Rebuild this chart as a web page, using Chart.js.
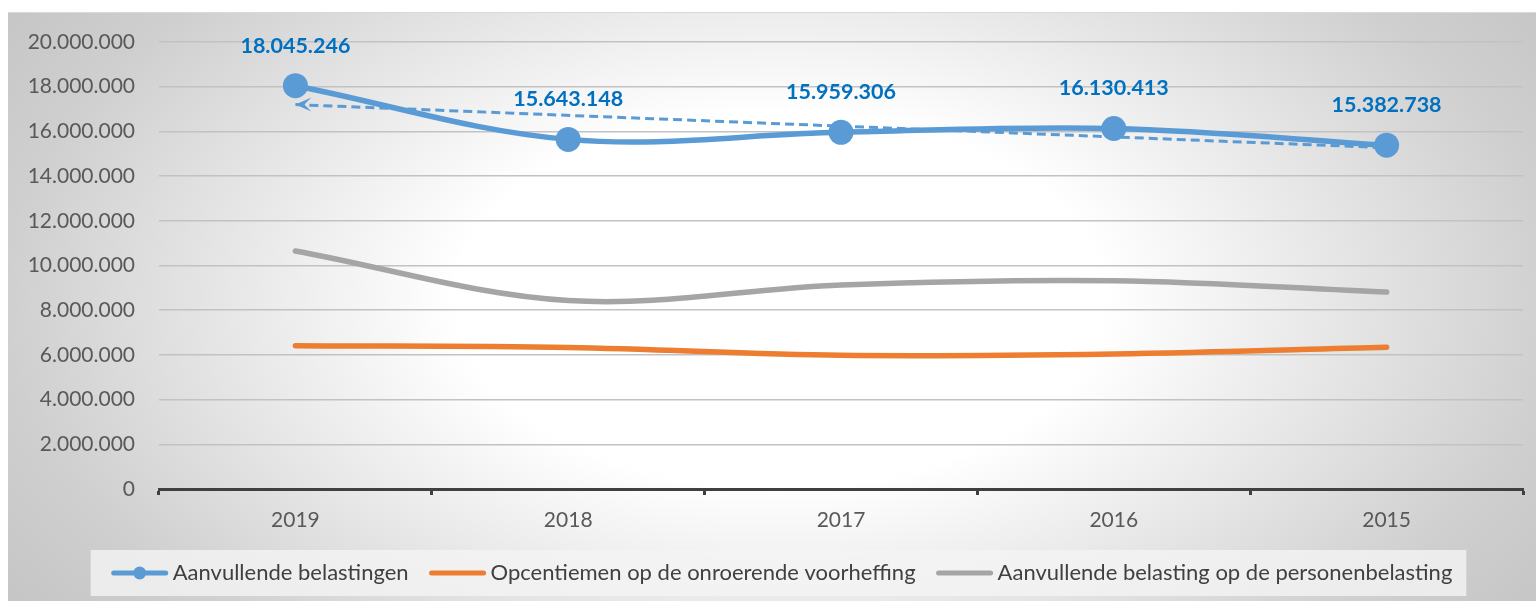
<!DOCTYPE html>
<html>
<head>
<meta charset="utf-8">
<script src="https://cdn.jsdelivr.net/npm/chart.js@4/dist/chart.umd.min.js"></script>
<style>
  html, body { margin: 0; padding: 0; background: #fff; }
  #wrap { width: 1536px; height: 601px; }
</style>
</head>
<body>
<div id="wrap"><canvas id="grafica" width="1536" height="601"></canvas></div>
<script>
// Gegevens
const jaren = ["2019", "2018", "2017", "2016", "2015"];
const aanvullendeBelastingen = [18045246, 15643148, 15959306, 16130413, 15382738];
const opcentiemen = [6410000, 6330000, 5980000, 6040000, 6340000];
const personenbelasting = [10650000, 8430000, 9130000, 9320000, 8810000];
// lineaire trendlijn: enkel begin- en eindpunt
const trendlijn = [17200000, null, null, null, 15270000];
const yMin = 0;
const yMax = 20000000;
const yStap = 2000000;

// getal met punten als duizendtal-scheiding
const puntNotatie = (waarde) =>
  String(Math.round(waarde)).replace(/\B(?=(\d{3})+(?!\d))/g, ".");

// Achtergrond met radiale kleurovergang
const achtergrond = {
  id: "achtergrond",
  beforeDraw(chart) {
    const ctx = chart.ctx;
    ctx.save();
    ctx.fillStyle = "#ffffff";
    ctx.fillRect(0, 0, chart.width, chart.height);
    const cx = 780, cy = 300, rx = 1080, ry = 620;
    ctx.translate(cx, cy);
    ctx.scale(1, ry / rx);
    const grad = ctx.createRadialGradient(0, 0, 0, 0, 0, rx);
    grad.addColorStop(0, "#ffffff");
    grad.addColorStop(0.3, "#ffffff");
    grad.addColorStop(0.72, "#cfcfcf");
    grad.addColorStop(1, "#bcbcbc");
    ctx.fillStyle = grad;
    ctx.fillRect(8 - cx, (12 - cy) * rx / ry, chart.width, chart.height * rx / ry);
    ctx.restore();
    ctx.save();
    ctx.strokeStyle = "#d9d9d9";
    ctx.lineWidth = 1;
    ctx.beginPath();
    ctx.moveTo(8, 12.5);
    ctx.lineTo(chart.width, 12.5);
    ctx.stroke();
    ctx.restore();
  },
};

// Waardelabels en pijlpunt van de trendlijn
const labelsEnPijl = {
  id: "labelsEnPijl",
  afterDatasetsDraw(chart) {
    const ctx = chart.ctx;
    ctx.save();
    const meta = chart.getDatasetMeta(0);
    ctx.font = "bold 21.5px Lato";
    ctx.fillStyle = "#0070C0";
    ctx.textAlign = "center";
    ctx.textBaseline = "middle";
    meta.data.forEach((punt, i) => {
      ctx.fillText(puntNotatie(aanvullendeBelastingen[i]), punt.x, punt.y - 40);
    });

    const trend = chart.getDatasetMeta(3).data[0];
    ctx.fillStyle = "#5B9BD5";
    ctx.beginPath();
    ctx.moveTo(trend.x, trend.y);
    ctx.lineTo(trend.x + 16, trend.y - 7);
    ctx.lineTo(trend.x + 9, trend.y);
    ctx.lineTo(trend.x + 16, trend.y + 7);
    ctx.closePath();
    ctx.fill();
    ctx.restore();
  },
};

// Legende onderaan
const legende = {
  id: "legende",
  afterDraw(chart) {
    const ctx = chart.ctx;
    const reeksen = chart.data.datasets.filter((d) => !d.geenLegende);
    ctx.save();
    ctx.font = "22px Lato";
    const stukBreedte = 56, tekstAfstand = 5, tussenAfstand = 21;
    const breedtes = reeksen.map((d) => ctx.measureText(d.label).width);
    let totaal = tussenAfstand * (reeksen.length - 1);
    breedtes.forEach((b) => (totaal += stukBreedte + tekstAfstand + b));
    const midden = 782;
    let x = midden - totaal / 2;
    const yMidden = 573;

    ctx.fillStyle = "rgba(244,244,244,0.8)";
    ctx.fillRect(x - 21, 550, totaal + 35, 46);

    reeksen.forEach((d, i) => {
      ctx.strokeStyle = d.borderColor;
      ctx.lineWidth = 5;
      ctx.lineCap = "round";
      ctx.beginPath();
      ctx.moveTo(x + 2, yMidden);
      ctx.lineTo(x + stukBreedte - 2, yMidden);
      ctx.stroke();
      if (d.pointRadius > 0) {
        ctx.fillStyle = d.borderColor;
        ctx.beginPath();
        ctx.arc(x + stukBreedte / 2, yMidden, 6.5, 0, Math.PI * 2);
        ctx.fill();
      }
      ctx.fillStyle = "#404040";
      ctx.textAlign = "left";
      ctx.textBaseline = "middle";
      ctx.fillText(d.label, x + stukBreedte + tekstAfstand, yMidden);
      x += stukBreedte + tekstAfstand + breedtes[i] + tussenAfstand;
    });
    ctx.restore();
  },
};

const grafiek = new Chart(document.getElementById("grafica"), {
  type: "line",
  data: {
    labels: jaren,
    datasets: [
      {
        label: "Aanvullende belastingen",
        data: aanvullendeBelastingen,
        borderColor: "#5B9BD5",
        backgroundColor: "#5B9BD5",
        borderWidth: 5.5,
        borderCapStyle: "round",
        pointRadius: 12.5,
        pointBackgroundColor: "#5B9BD5",
        pointBorderWidth: 0,
        tension: 0.35,
        order: 1,
      },
      {
        label: "Opcentiemen op de onroerende voorheffing",
        data: opcentiemen,
        borderColor: "#ED7D31",
        backgroundColor: "#ED7D31",
        borderWidth: 5.5,
        borderCapStyle: "round",
        pointRadius: 0,
        tension: 0.35,
        order: 3,
      },
      {
        label: "Aanvullende belasting op de personenbelasting",
        data: personenbelasting,
        borderColor: "#A5A5A5",
        backgroundColor: "#A5A5A5",
        borderWidth: 5.5,
        borderCapStyle: "round",
        pointRadius: 0,
        tension: 0.35,
        order: 4,
      },
      {
        label: "Lineair (Aanvullende belastingen)",
        data: trendlijn,
        borderColor: "#5B9BD5",
        borderWidth: 3,
        borderDash: [9, 5],
        pointRadius: 0,
        spanGaps: true,
        tension: 0,
        geenLegende: true,
        order: 2,
      },
    ],
  },
  options: {
    responsive: false,
    animation: false,
    devicePixelRatio: 1,
    layout: { padding: { top: 42, right: 13, bottom: 56, left: 0 } },
    plugins: {
      legend: { display: false },
      tooltip: { enabled: false },
    },
    scales: {
      x: {
        offset: true,
        grid: {
          offset: true,
          drawOnChartArea: false,
          drawTicks: true,
          tickLength: 6,
          tickColor: "#404040",
          tickWidth: 3,
        },
        border: { color: "#404040", width: 3 },
        ticks: { color: "#595959", font: { family: "Lato", size: 21 }, padding: 13 },
        afterFit: (scale) => { scale.height = 56; },
      },
      y: {
        min: yMin,
        max: yMax,
        grid: { color: "#c2c2c2", lineWidth: 1.5, drawTicks: false },
        border: { display: false },
        ticks: {
          stepSize: yStap,
          color: "#595959",
          font: { family: "Lato", size: 21 },
          padding: 24,
          callback: (v) => puntNotatie(v),
        },
        afterFit: (scale) => { scale.width = 159; },
      },
    },
  },
  plugins: [achtergrond, labelsEnPijl, legende],
});
</script>
</body>
</html>
